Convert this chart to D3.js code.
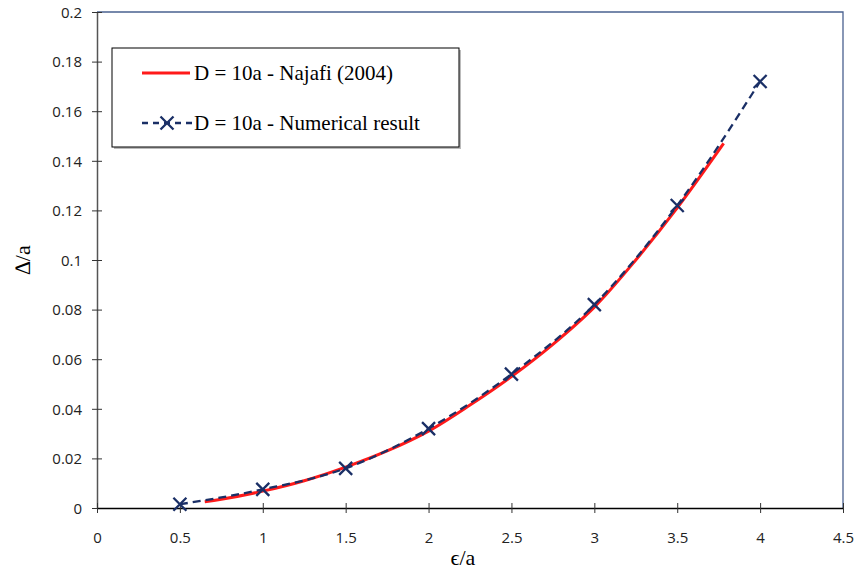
<!DOCTYPE html>
<html>
<head>
<meta charset="utf-8">
<script src="https://cdn.jsdelivr.net/npm/d3@7"></script>
<style>
  body { margin: 0; background: #fff; }
  svg { display: block; }
</style>
</head>
<body>
<div></div>
<script>
const width = 858
const height = 575

// Numerical result (markers)
const numX = [0.5, 1, 1.5, 2, 2.5, 3, 3.5, 4]
const numY = [0.0015, 0.0075, 0.016, 0.032, 0.054, 0.082, 0.122, 0.172]

// Najafi (2004) curve
const najX = [0.65, 0.75, 1.0, 1.25, 1.5, 1.75, 2.0, 2.25, 2.5, 2.75, 3.0, 3.25, 3.5, 3.78]
const najY = [0.0025, 0.0035, 0.0068, 0.011, 0.0165, 0.023, 0.031, 0.0415, 0.053, 0.066, 0.081, 0.100, 0.121, 0.147]

const xTicks = [0, 0.5, 1, 1.5, 2, 2.5, 3, 3.5, 4, 4.5]
const yTicks = [0, 0.02, 0.04, 0.06, 0.08, 0.1, 0.12, 0.14, 0.16, 0.18, 0.2]

const legendLabels = ['D = 10a - Najafi (2004)', 'D = 10a - Numerical result']

const margin = { left: 97, right: 15, top: 12, bottom: 67 }

let svg = d3.select('div').append('svg')
    .attr('width', width)
    .attr('height', height)

const x = d3.scaleLinear().domain([0, 4.5]).range([margin.left, width - margin.right])
const y = d3.scaleLinear().domain([0, 0.2]).range([height - margin.bottom, margin.top])

// plot frame (top & right)
svg.append('path')
    .attr('d', `M${x(0)},${y(0.2)}H${x(4.5)}V${y(0)}`)
    .attr('fill', 'none')
    .attr('stroke', '#4a6190')
    .attr('stroke-width', 1.3)

// y axis
let yAxis = svg.append('g')
    .attr('transform', `translate(${x(0)},0)`)
    .call(d3.axisLeft(y).tickValues(yTicks).tickSize(0).tickFormat(d => String(+d.toFixed(2))))
yAxis.select('.domain').attr('stroke', '#555').attr('stroke-width', 1.5)
yAxis.selectAll('.tick line').attr('x1', -5).attr('x2', 5).attr('stroke', '#333')
yAxis.selectAll('.tick text')
    .attr('x', -15).attr('dy', '0.35em')
    .style('font-family', 'Open Sans, sans-serif').style('font-size', '15px').attr('fill', '#222')

// x axis
let xAxis = svg.append('g')
    .attr('transform', `translate(0,${y(0)})`)
    .call(d3.axisBottom(x).tickValues(xTicks).tickSize(0).tickFormat(d => String(d)))
xAxis.select('.domain').attr('stroke', '#000').attr('stroke-width', 1.3)
xAxis.selectAll('.tick line').attr('y1', -5).attr('y2', 5).attr('stroke', '#333')
xAxis.selectAll('.tick text')
    .attr('y', 24)
    .style('font-family', 'Open Sans, sans-serif').style('font-size', '15px').attr('fill', '#222')

// axis titles
svg.append('text')
    .attr('x', 463).attr('y', 565)
    .attr('text-anchor', 'middle')
    .style('font-family', 'Liberation Serif, serif').style('font-size', '22px')
    .text('ϵ/a')

svg.append('text')
    .attr('transform', `translate(30,${y(0.1)}) rotate(-90)`)
    .attr('text-anchor', 'middle')
    .style('font-family', 'Liberation Serif, serif').style('font-size', '22px')
    .text('∆/a')

const najData = najX.map((d, i) => ({ x: d, y: najY[i] }))
const numData = numX.map((d, i) => ({ x: d, y: numY[i] }))

// Najafi line
svg.append('path')
    .datum(najData)
    .attr('d', d3.line().x(d => x(d.x)).y(d => y(d.y)).curve(d3.curveCatmullRom))
    .attr('fill', 'none')
    .attr('stroke', '#ff1a1a')
    .attr('stroke-width', 3)

// Numerical dashed line
svg.append('path')
    .datum(numData)
    .attr('d', d3.line().x(d => x(d.x)).y(d => y(d.y)).curve(d3.curveMonotoneX))
    .attr('fill', 'none')
    .attr('stroke', '#1a2f66')
    .attr('stroke-width', 2.3)
    .attr('stroke-dasharray', '8,5')

function cross(g, cx, cy, r) {
    g.append('path')
        .attr('d', `M${cx - r},${cy - r}L${cx + r},${cy + r}M${cx - r},${cy + r}L${cx + r},${cy - r}`)
        .attr('stroke', '#1a2f66')
        .attr('stroke-width', 2.3)
        .attr('fill', 'none')
}

let marks = svg.append('g')
numData.forEach(d => cross(marks, x(d.x), y(d.y), 6.5))

// legend
let lg = svg.append('g')
lg.append('rect')
    .attr('x', 114).attr('y', 50).attr('width', 347).attr('height', 99)
    .attr('fill', '#bbb')
lg.append('rect')
    .attr('x', 112).attr('y', 48).attr('width', 347).attr('height', 99)
    .attr('fill', '#fff').attr('stroke', '#000').attr('stroke-width', 1)

lg.append('line')
    .attr('x1', 142).attr('x2', 190).attr('y1', 73).attr('y2', 73)
    .attr('stroke', '#ff1a1a').attr('stroke-width', 3)
lg.append('line')
    .attr('x1', 142).attr('x2', 192).attr('y1', 123).attr('y2', 123)
    .attr('stroke', '#1a2f66').attr('stroke-width', 2.3).attr('stroke-dasharray', '6,5')
cross(lg, 167, 123, 6.5)

lg.selectAll('text.lbl')
    .data(legendLabels)
    .enter()
    .append('text')
    .attr('class', 'lbl')
    .attr('x', 194)
    .attr('y', (d, i) => 80 + i * 50)
    .style('font-family', 'Liberation Serif, serif').style('font-size', '21px')
    .attr('fill', '#000')
    .text(d => d)
</script>
</body>
</html>
